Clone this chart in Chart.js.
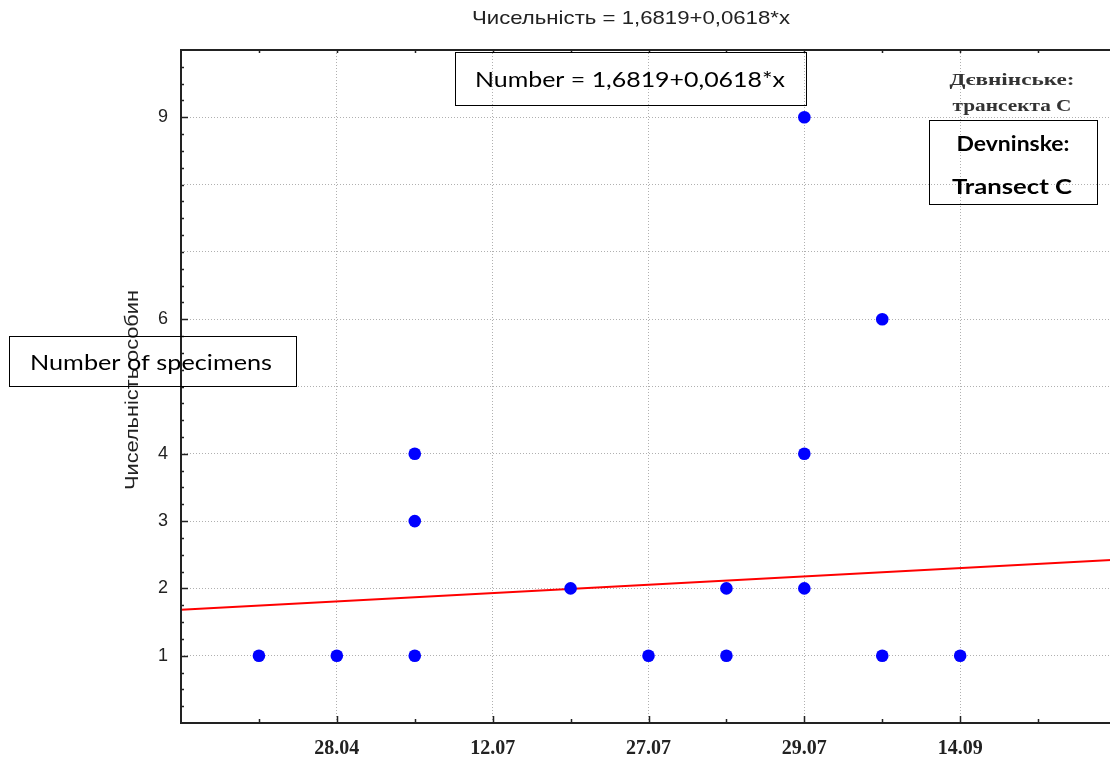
<!DOCTYPE html>
<html><head><meta charset="utf-8">
<script src="https://cdn.jsdelivr.net/npm/chart.js@4.4.1/dist/chart.umd.min.js"></script>
<style>
html,body{margin:0;padding:0;overflow:hidden;background:#fff;width:1110px;height:758px;}
#wrap{position:absolute;left:0;top:0;width:1130px;height:758px;}
</style></head><body>
<div id="wrap"><canvas id="c"></canvas></div>
<script>
// ---- data ----
const pointX = [1, 2, 3, 3, 3, 5, 6, 7, 7, 8, 8, 8, 9, 9, 10];
const pointY = [1, 1, 1, 3, 4, 2, 1, 1, 2, 2, 4, 9, 1, 6, 1];
const fitX = [0, 12];
const fitY = [1.682, 2.424];
const xTickValues = [2, 4, 6, 8, 10];
const xTickLabels = ['28.04', '12.07', '27.07', '29.07', '14.09'];
const yTickValues = [1, 2, 3, 4, 6, 9];
const yTickLabels = ['1', '2', '3', '4', '6', '9'];
const yGridValues = [1, 2, 3, 4, 5, 6, 7, 8, 9];
const titleText = 'Чисельність = 1,6819+0,0618*x';
const yAxisTitle = 'Чисельність особин';
const siteLines = ['Дєвнінське:', 'трансекта С'];
const boxEquation = 'Number = 1,6819+0,0618*x';
const boxSite = ['Devninske:', 'Transect C'];
const boxYTitle = 'Number of specimens';

// ---- layout ----
const W = 1130, H = 758;
const area = {left: 181, top: 50, right: 1120, bottom: 723};

function fitText(ctx, text, cx, cy, font, width, color, rot) {
  ctx.save();
  ctx.font = font; ctx.fillStyle = color;
  ctx.textAlign = 'center'; ctx.textBaseline = 'middle';
  const m = ctx.measureText(text).width;
  ctx.translate(cx, cy);
  if (rot) ctx.rotate(rot);
  ctx.scale(width / m, 1);
  ctx.fillText(text, 0, 0);
  ctx.restore();
}
function box(ctx, x1, y1, x2, y2) {
  ctx.save(); ctx.strokeStyle = '#000'; ctx.lineWidth = 1;
  ctx.strokeRect(Math.round(x1) + 0.5, Math.round(y1) + 0.5, Math.round(x2 - x1), Math.round(y2 - y1));
  ctx.restore();
}

const framePlugin = {
  id: 'frame',
  afterDraw(chart) {
    const ctx = chart.ctx;
    const {left, top, right, bottom} = chart.chartArea;
    const xs = chart.scales.x, ys = chart.scales.y;
    ctx.save();
    ctx.strokeStyle = '#222'; ctx.lineWidth = 2;
    ctx.beginPath();
    ctx.moveTo(left, top); ctx.lineTo(right, top);
    ctx.moveTo(left, top - 1); ctx.lineTo(left, bottom + 1);
    ctx.moveTo(left - 1, bottom); ctx.lineTo(right, bottom);
    ctx.stroke();
    // ticks (inward)
    ctx.lineWidth = 1.5;
    ctx.beginPath();
    for (let v = 0.25; v < 10; v += 0.25) {
      const y = Math.round(ys.getPixelForValue(v)) + 0.5;
      const len = yTickValues.includes(v) ? 7 : 3;
      ctx.moveTo(left, y); ctx.lineTo(left + len, y);
    }
    for (let v = 1; v < 12; v += 1) {
      const x = Math.round(xs.getPixelForValue(v)) + 0.5;
      const len = xTickValues.includes(v) ? 7 : 4;
      ctx.moveTo(x, bottom); ctx.lineTo(x, bottom - len);
      ctx.moveTo(x, top); ctx.lineTo(x, top + 3);
    }
    ctx.stroke();
    ctx.restore();

    // Statistica texts
    fitText(ctx, titleText, 631, 19, '19px "Liberation Sans"', 318, '#222');
    fitText(ctx, yAxisTitle, 133, 390, '19px "Liberation Sans"', 200, '#222', -Math.PI / 2);
    fitText(ctx, siteLines[0], 1012, 81, 'bold 17px "Liberation Serif"', 125, '#333');
    fitText(ctx, siteLines[1], 1012, 107, 'bold 17px "Liberation Serif"', 119, '#333');

    // overlay boxes
    box(ctx, 455, 52, 806, 105);
    fitText(ctx, boxEquation, 630, 80, '21px Lato', 310, '#000');
    box(ctx, 929, 120, 1097, 204);
    fitText(ctx, boxSite[0], 1013, 144, 'bold 21px Lato', 113, '#000');
    fitText(ctx, boxSite[1], 1012, 187, 'bold 21px Lato', 120, '#000');
    box(ctx, 9, 336, 296, 386);
    fitText(ctx, boxYTitle, 151, 363, '21px Lato', 242, '#000');
  }
};

new Chart(document.getElementById('c').getContext('2d'), {
  type: 'scatter',
  data: {
    datasets: [
      {
        type: 'line',
        data: fitX.map((x, i) => ({x: x, y: fitY[i]})),
        borderColor: '#ff0000', borderWidth: 2, pointRadius: 0, fill: false, order: 2
      },
      {
        type: 'scatter',
        data: pointX.map((x, i) => ({x: x, y: pointY[i]})),
        backgroundColor: '#0000ff', borderWidth: 0, pointRadius: 6.3, pointHoverRadius: 6.3, order: 1
      }
    ]
  },
  options: {
    responsive: true, maintainAspectRatio: false, animation: false,
    layout: {padding: {left: 0, top: area.top, right: W - area.right, bottom: 0}},
    plugins: {legend: {display: false}, tooltip: {enabled: false}, title: {display: false}},
    scales: {
      x: {
        type: 'linear', min: 0, max: 12,
        afterBuildTicks: s => { s.ticks = [0].concat(xTickValues, [12]).map(v => ({value: v})); },
        afterFit: s => { s.height = H - area.bottom; },
        grid: {
          color: c => xTickValues.includes(c.tick && c.tick.value) ? '#b0b0b0' : 'rgba(0,0,0,0)',
          drawTicks: false, lineWidth: 1
        },
        border: {display: false, dash: [1, 2]},
        ticks: {
          callback: v => { const i = xTickValues.indexOf(v); return i >= 0 ? xTickLabels[i] : ''; },
          font: {family: 'Liberation Serif', weight: 'bold', size: 20},
          color: '#222', padding: 14, maxRotation: 0, autoSkip: false
        }
      },
      y: {
        type: 'linear', min: 0, max: 10,
        afterBuildTicks: s => { s.ticks = [0].concat(yGridValues, [10]).map(v => ({value: v})); },
        afterFit: s => { s.width = area.left; },
        grid: {
          color: c => yGridValues.includes(c.tick && c.tick.value) ? '#b0b0b0' : 'rgba(0,0,0,0)',
          drawTicks: false, lineWidth: 1
        },
        border: {display: false, dash: [1, 2]},
        ticks: {
          callback: v => { const i = yTickValues.indexOf(v); return i >= 0 ? yTickLabels[i] : ''; },
          font: {family: 'Liberation Sans', size: 18},
          color: '#222', padding: 13, autoSkip: false
        }
      }
    }
  },
  plugins: [framePlugin]
});
</script>
</body></html>
